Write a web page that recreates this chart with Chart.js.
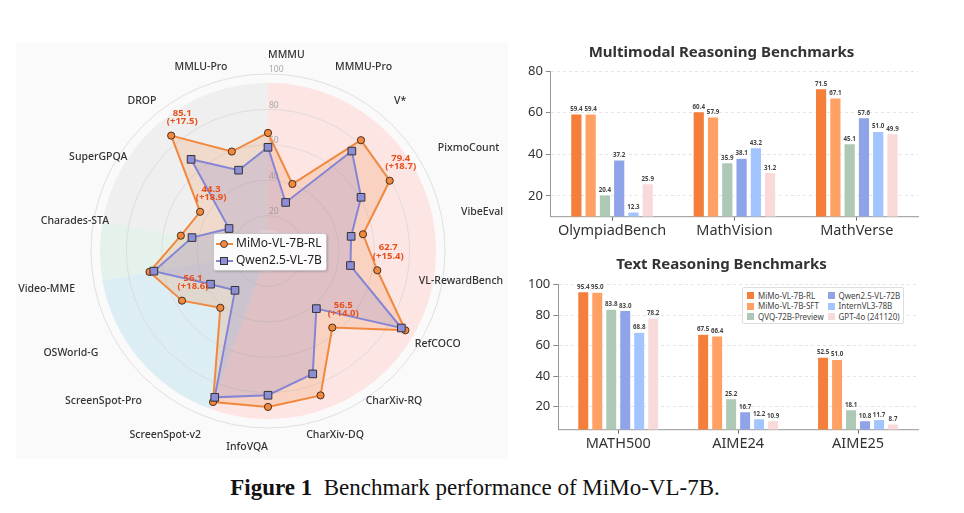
<!DOCTYPE html>
<html><head><meta charset="utf-8">
<script src="https://cdn.jsdelivr.net/npm/chart.js@4.4.1/dist/chart.umd.min.js"></script>
<style>
html,body{margin:0;padding:0;background:#fff;}
#page{position:relative;width:964px;height:513px;overflow:hidden;font-family:'Noto Sans',sans-serif;}
canvas{position:absolute;}
#radar{left:16px;top:43px;}
#mm{left:520px;top:35px;}
#txt{left:520px;top:252px;}
#legR{position:absolute;left:213px;top:233px;width:112px;height:36px;background:rgba(255,255,255,0.93);border:1px solid #c6c6c6;border-radius:3px;box-shadow:1px 1px 2px rgba(0,0,0,0.18);font-size:12px;color:#222;}
#legR .row{position:absolute;left:0;height:16px;width:112px;}
#legR .ln{position:absolute;left:2px;top:7px;width:17px;height:2px;}
#legR .mk{position:absolute;box-sizing:border-box;border:1px solid #444;}
#legR .tx{position:absolute;left:22px;top:-1px;line-height:16px;white-space:nowrap;}
#legB{position:absolute;left:742px;top:287px;width:160px;height:35px;background:#fff;border:1px solid #ddd;border-radius:2px;font-size:8px;color:#444;}
#legB .it{position:absolute;height:10px;white-space:nowrap;line-height:10px;}
#legB .sw{position:absolute;left:0;top:1.5px;width:7px;height:7px;}
#legB .lb{position:absolute;left:11px;top:0;}
#cap{position:absolute;top:475px;left:0;width:950px;text-align:center;font-family:'Liberation Serif',serif;font-size:23px;color:#111;}
</style></head>
<body><div id="page">
<canvas id="radar" width="492" height="416"></canvas>
<canvas id="mm" width="415" height="213"></canvas>
<canvas id="txt" width="415" height="206"></canvas>
<div id="legR"></div>
<div id="legB"></div>
<div id="cap"><b>Figure 1</b>&nbsp;&nbsp;Benchmark performance of MiMo-VL-7B.</div>
</div>
<script>
// ---------------- data ----------------
const radarAxes = ['MMMU','MMMU-Pro','V*','PixmoCount','VibeEval','VL-RewardBench','RefCOCO','CharXiv-RQ','CharXiv-DQ','InfoVQA','ScreenSpot-v2','ScreenSpot-Pro','OSWorld-G','Video-MME','Charades-STA','SuperGPQA','DROP','MMLU-Pro'];
const radarSeries = ['MiMo-VL-7B-RL','Qwen2.5-VL-7B'];
const mimoRL = [66.7, 40.3, 81.7, 79.4, 54.5, 62.7, 89.6, 56.5, 86.8, 88.1, 90.8, 41.9, 56.1, 68.0, 50.0, 44.3, 85.1, 59.8];
const qwen7B = [58.6, 29.2, 73.7, 60.7, 47.7, 47.3, 87.0, 42.5, 73.9, 81.5, 88.0, 29.0, 37.5, 65.5, 43.6, 25.4, 67.6, 48.6];
const radarTicks = [20, 40, 60, 80, 100];
const highlightIdx = [3, 5, 7, 12, 15, 16];

const barModels = ['MiMo-VL-7B-RL','MiMo-VL-7B-SFT','QVQ-72B-Preview','Qwen2.5-VL-72B','InternVL3-78B','GPT-4o (241120)'];
const mmCategories = ['OlympiadBench','MathVision','MathVerse'];
const mmMiMoRL    = [59.4, 60.4, 71.5];
const mmMiMoSFT   = [59.4, 57.9, 67.1];
const mmQVQ       = [20.4, 35.9, 45.1];
const mmQwen72B   = [37.2, 38.1, 57.6];
const mmInternVL3 = [12.3, 43.2, 51.0];
const mmGPT4o     = [25.9, 31.2, 49.9];
const mmTicks = [20, 40, 60, 80];

const txtCategories = ['MATH500','AIME24','AIME25'];
const txtMiMoRL    = [95.4, 67.5, 52.5];
const txtMiMoSFT   = [95.0, 66.4, 51.0];
const txtQVQ       = [83.8, 25.2, 18.1];
const txtQwen72B   = [83.0, 16.7, 10.8];
const txtInternVL3 = [68.8, 12.2, 11.7];
const txtGPT4o     = [78.2, 10.9, 8.7];
const txtTicks = [20, 40, 60, 80, 100];

// ---------------- styles ----------------
const FONT = "'Noto Sans', sans-serif";
const barColors = ['#f57e3a','#ffa165','#adc8b4','#8fa4e8','#a2c4ff','#f9dada'];
const sectorGroups = [
  {from: 0, to: 10, color: '#fde5e3'},
  {from: 10, to: 13, color: '#dcedf3'},
  {from: 13, to: 14, color: '#e5f2ec'},
  {from: 14, to: 18, color: '#efefef'}
];

// ---------------- radar ----------------
const radarDecor = {
  id: 'radarDecor',
  beforeDraw(chart) {
    const ctx = chart.ctx, s = chart.scales.r, n = chart.data.labels.length;
    ctx.save();
    ctx.fillStyle = '#fafafa';
    ctx.fillRect(0, 0, chart.width, chart.height);
    const rO = s.getDistanceFromCenterForValue(95), rI = s.getDistanceFromCenterForValue(12);
    sectorGroups.forEach(g => {
      const a0 = s.getIndexAngle(g.from) - Math.PI / 2;
      const a1 = (g.to >= n ? s.getIndexAngle(0) + 2 * Math.PI : s.getIndexAngle(g.to)) - Math.PI / 2;
      ctx.beginPath();
      ctx.arc(s.xCenter, s.yCenter, rO, a0, a1);
      ctx.arc(s.xCenter, s.yCenter, rI, a1, a0, true);
      ctx.closePath();
      ctx.fillStyle = g.color;
      ctx.fill();
    });
    ctx.restore();
  },
  beforeDatasetsDraw(chart) {
    const ctx = chart.ctx, s = chart.scales.r;
    ctx.save();
    ctx.font = '8.5px ' + FONT;
    ctx.fillStyle = '#a8a8a8';
    ctx.textAlign = 'left';
    ctx.textBaseline = 'middle';
    radarTicks.forEach(v => {
      const p = s.getPointPosition(0, s.getDistanceFromCenterForValue(v));
      ctx.fillText(String(v), p.x + 1, p.y - 4);
    });
    ctx.font = '500 10.5px ' + FONT;
    ctx.fillStyle = '#333';
    chart.data.labels.forEach((lab, i) => {
      const ang = s.getIndexAngle(i);
      const deg = Math.round(ang * 180 / Math.PI) % 360;
      const p = s.getPointPosition(i, s.drawingArea + 19);
      let align = 'center';
      if (deg < 90) align = 'left';
      else if (deg >= 180 && deg < 270) align = 'right';
      const sn = Math.sin(ang);
      const dy = Math.abs(sn) > 0.8 ? (sn > 0 ? -4.5 : 4) : 0;
      ctx.textAlign = align;
      ctx.fillText(lab, p.x, p.y + dy);
    });
    ctx.restore();
  },
  afterDatasetsDraw(chart) {
    const ctx = chart.ctx, meta = chart.getDatasetMeta(0);
    ctx.save();
    ctx.font = 'bold 9.5px ' + FONT;
    ctx.fillStyle = '#e8501e';
    ctx.textAlign = 'center';
    ctx.textBaseline = 'middle';
    highlightIdx.forEach(i => {
      const pt = meta.data[i];
      const d = Math.round((mimoRL[i] - qwen7B[i]) * 10) / 10;
      ctx.fillText(mimoRL[i].toFixed(1), pt.x + 11, pt.y - 22.5);
      ctx.fillText('(+' + d.toFixed(1) + ')', pt.x + 11, pt.y - 14);
    });
    ctx.restore();
  }
};

new Chart(document.getElementById('radar'), {
  type: 'radar',
  data: {
    labels: radarAxes,
    datasets: [
      {label: radarSeries[0], data: mimoRL, order: 2, fill: true,
       borderColor: '#f0883e', backgroundColor: 'rgba(240,136,62,0.2)', borderWidth: 2,
       pointStyle: 'circle', pointRadius: 3.6, pointBackgroundColor: '#f0883e', pointBorderColor: '#4a3020', pointBorderWidth: 1},
      {label: radarSeries[1], data: qwen7B, order: 1, fill: true,
       borderColor: '#8585d6', backgroundColor: 'rgba(128,128,210,0.22)', borderWidth: 2,
       pointStyle: 'rect', pointRadius: 5.4, pointBackgroundColor: '#8e8ed8', pointBorderColor: '#333', pointBorderWidth: 1}
    ]
  },
  options: {
    responsive: false, animation: false,
    layout: {padding: {left: 75, right: 62, top: 31, bottom: 30}},
    elements: {line: {tension: 0}},
    plugins: {legend: {display: false}, tooltip: {enabled: false}},
    scales: {
      r: {
        min: 0, max: 100,
        ticks: {display: false, stepSize: 20},
        afterBuildTicks: s => { s.ticks = [0].concat(radarTicks).map(v => ({value: v})); },
        pointLabels: {display: false},
        angleLines: {display: false},
        grid: {circular: true, color: '#d8d8d8', lineWidth: 0.8}
      }
    }
  },
  plugins: [radarDecor]
});

// radar legend (html)
(function () {
  const leg = document.getElementById('legR');
  const cols = ['#f0883e', '#8585d6'];
  radarSeries.forEach((name, k) => {
    const row = document.createElement('div');
    row.className = 'row';
    row.style.top = (2 + k * 16.6) + 'px';
    const ln = document.createElement('div'); ln.className = 'ln'; ln.style.background = cols[k];
    const mk = document.createElement('div'); mk.className = 'mk';
    if (k === 0) { mk.style.cssText += 'left:6px;top:4px;width:8px;height:8px;border-radius:50%;background:#f0883e;'; }
    else { mk.style.cssText += 'left:6px;top:4px;width:8px;height:8px;background:#8e8ed8;border-color:#333;'; }
    const tx = document.createElement('div'); tx.className = 'tx'; tx.textContent = name;
    row.appendChild(ln); row.appendChild(mk); row.appendChild(tx);
    leg.appendChild(row);
  });
})();

// ---------------- bars ----------------
const barValueLabels = {
  id: 'barVals',
  afterDatasetsDraw(chart) {
    const ctx = chart.ctx;
    ctx.save();
    ctx.font = 'bold 6.2px ' + FONT;
    ctx.fillStyle = '#444';
    ctx.textAlign = 'center';
    ctx.textBaseline = 'bottom';
    chart.data.datasets.forEach((ds, i) => {
      chart.getDatasetMeta(i).data.forEach((bar, j) => {
        ctx.fillText(ds.data[j].toFixed(1), bar.x, bar.y - 1.5);
      });
    });
    ctx.restore();
  }
};

function makeBar(id, title, cats, series, ticks, ymin, ymax, layoutPad, titlePad) {
  new Chart(document.getElementById(id), {
    type: 'bar',
    data: {
      labels: cats,
      datasets: series.map((d, k) => ({
        label: barModels[k], data: d, backgroundColor: barColors[k],
        borderColor: 'rgba(255,255,255,0.5)', borderWidth: 0.6,
        categoryPercentage: 0.7, barPercentage: 0.8
      }))
    },
    options: {
      responsive: false, animation: false,
      layout: {padding: layoutPad},
      plugins: {
        legend: {display: false}, tooltip: {enabled: false},
        title: {display: true, text: title, color: '#333', font: {family: FONT, size: 15, weight: 'bold'}, padding: titlePad}
      },
      scales: {
        x: {
          grid: {display: true, drawOnChartArea: false, offset: false, drawTicks: true, tickLength: 4, tickColor: '#666', tickWidth: 1},
          border: {display: true, color: '#aaa', width: 1.2},
          ticks: {color: '#333', font: {family: FONT, size: 14.5}, padding: 2}
        },
        y: {
          min: ymin, max: ymax,
          afterBuildTicks: s => { s.ticks = ticks.map(v => ({value: v})); },
          grid: {color: '#dddddd', lineWidth: 0.8, tickLength: 5, tickColor: '#888', tickWidth: 1, tickBorderDash: []},
          border: {display: true, color: '#999', width: 1, dash: [3, 3]},
          ticks: {color: '#333', font: {family: FONT, size: 13}, padding: 3}
        }
      }
    },
    plugins: [barValueLabels]
  });
}

makeBar('mm', 'Multimodal Reasoning Benchmarks', mmCategories,
  [mmMiMoRL, mmMiMoSFT, mmQVQ, mmQwen72B, mmInternVL3, mmGPT4o], mmTicks, 10, 80,
  {left: 5, right: 17, top: 0, bottom: 6}, {top: 9, bottom: 9});
makeBar('txt', 'Text Reasoning Benchmarks', txtCategories,
  [txtMiMoRL, txtMiMoSFT, txtQVQ, txtQwen72B, txtInternVL3, txtGPT4o], txtTicks, 5, 100,
  {left: 5, right: 17, top: 0, bottom: 3}, {top: 4, bottom: 10.5});

// bar legend (html)
(function () {
  const leg = document.getElementById('legB');
  barModels.forEach((name, k) => {
    const col = Math.floor(k / 3), row = k % 3;
    const it = document.createElement('div'); it.className = 'it';
    it.style.left = (4 + col * 80.5) + 'px';
    it.style.top = (2.5 + row * 10.7) + 'px';
    const sw = document.createElement('div'); sw.className = 'sw'; sw.style.background = barColors[k];
    const lb = document.createElement('div'); lb.className = 'lb'; lb.textContent = name;
    it.appendChild(sw); it.appendChild(lb);
    leg.appendChild(it);
  });
})();
</script>
</body></html>
